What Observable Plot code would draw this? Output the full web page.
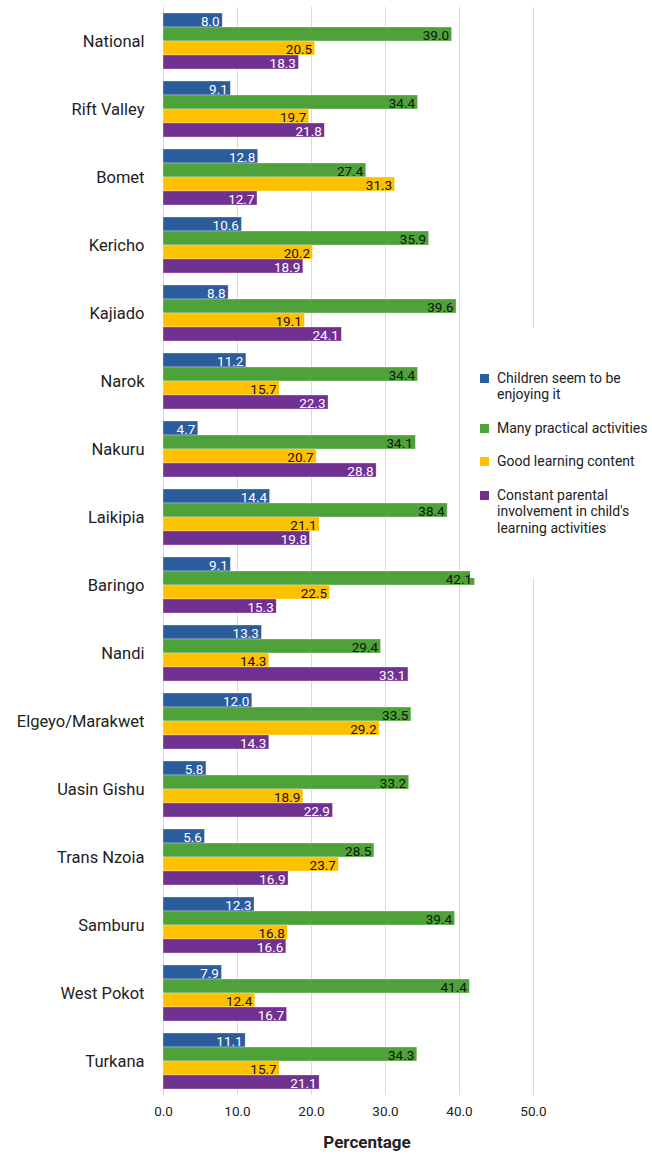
<!DOCTYPE html>
<html>
<head>
<meta charset="utf-8">
<script src="https://cdn.jsdelivr.net/npm/d3@7"></script>
<script src="https://cdn.jsdelivr.net/npm/@observablehq/plot@0.6"></script>
<style>
  html, body { margin: 0; padding: 0; background: #fff; }
  #wrap { position: relative; width: 652px; height: 1157px; font-family: Roboto, "Noto Sans", sans-serif; color: #222; }
  #wrap svg { position: absolute; left: 0; top: 0; background: transparent !important; }
  #legend { position: absolute; left: 470px; top: 328px; width: 182px; height: 250px; background: #fff;
            display: flex; flex-direction: column; justify-content: center; gap: 17px; font-size: 14px; line-height: 16.5px; }
  .item { display: flex; align-items: flex-start; padding-left: 10px; }
  .sw { width: 9px; height: 9px; margin-top: 4px; margin-right: 8px; flex: none; }
  #xlabel { position: absolute; left: 163px; width: 408px; top: 1132px; text-align: center; font-weight: bold; font-size: 17px; }
</style>
</head>
<body>
<div id="wrap"></div>
<script>
const regions = ["National","Rift Valley","Bomet","Kericho","Kajiado","Narok","Nakuru","Laikipia","Baringo","Nandi","Elgeyo/Marakwet","Uasin Gishu","Trans Nzoia","Samburu","West Pokot","Turkana"];
const series = ["Children seem to be enjoying it","Many practical activities","Good learning content","Constant parental involvement in child's learning activities"];
const enjoying  = [8.0, 9.1, 12.8, 10.6, 8.8, 11.2, 4.7, 14.4, 9.1, 13.3, 12.0, 5.8, 5.6, 12.3, 7.9, 11.1];
const practical = [39.0, 34.4, 27.4, 35.9, 39.6, 34.4, 34.1, 38.4, 42.1, 29.4, 33.5, 33.2, 28.5, 39.4, 41.4, 34.3];
const content   = [20.5, 19.7, 31.3, 20.2, 19.1, 15.7, 20.7, 21.1, 22.5, 14.3, 29.2, 18.9, 23.7, 16.8, 12.4, 15.7];
const parental  = [18.3, 21.8, 12.7, 18.9, 24.1, 22.3, 28.8, 19.8, 15.3, 33.1, 14.3, 22.9, 16.9, 16.6, 16.7, 21.1];
const xTicks = [0, 10, 20, 30, 40, 50];

const colors = ["#2b5c9c", "#4fa23a", "#ffc000", "#713190"];
const whiteText = new Set([series[0], series[3]]);
const values = [enjoying, practical, content, parental];
const rows = regions.flatMap((r, i) => series.map((s, j) => ({region: r, series: s, value: values[j][i]})));

const W = 652, H = 1125, ML = 163, MR = 119, MT = 7, MB = 30;
const fyOpts = {paddingInner: 0.15, paddingOuter: 0.075};

const bg = Plot.plot({
  width: W, height: H, marginLeft: ML, marginRight: MR, marginTop: MT, marginBottom: MB,
  style: {fontSize: "13.5px", fontFamily: "Roboto, 'Noto Sans', sans-serif", color: "#222"},
  x: {domain: [0, 50], ticks: xTicks, tickFormat: d => d.toFixed(1), tickSize: 0, tickPadding: 11, label: null},
  y: {domain: regions, axis: null, ...fyOpts},
  marks: [
    Plot.ruleX(xTicks, {stroke: "#d9d9d9", strokeWidth: 1}),
    Plot.text(regions, {y: d => d, frameAnchor: "left", textAnchor: "end", dx: -19, fontSize: 16.5, fill: "#222"})
  ]
});

const fg = Plot.plot({
  width: W, height: H, marginLeft: ML, marginRight: MR, marginTop: MT, marginBottom: MB,
  style: {fontSize: "13px", fontFamily: "Roboto, 'Noto Sans', sans-serif", background: "transparent"},
  x: {domain: [0, 50], axis: null},
  y: {domain: series, axis: null, padding: 0.03},
  fy: {domain: regions, axis: null, label: null, ...fyOpts},
  color: {domain: series, range: colors},
  facet: {data: rows, y: "region"},
  marks: [
    Plot.barX(rows, {x: "value", y: "series", fill: "series", stroke: "#ffffff", strokeOpacity: 0.5, strokeWidth: 0.6}),
    Plot.text(rows, {filter: d => whiteText.has(d.series), x: "value", y: "series", text: d => d.value.toFixed(1), textAnchor: "end", dx: -3, dy: 1, fill: "#ffffff", fontSize: 13.5}),
    Plot.text(rows, {filter: d => !whiteText.has(d.series), x: "value", y: "series", text: d => d.value.toFixed(1), textAnchor: "end", dx: -3, dy: 1, fill: "#111111", fontSize: 13.5})
  ]
});

const wrap = document.getElementById("wrap");
wrap.appendChild(bg);
wrap.appendChild(fg);

const legend = document.createElement("div");
legend.id = "legend";
series.forEach((s, j) => {
  const item = document.createElement("div");
  item.className = "item";
  const sw = document.createElement("span");
  sw.className = "sw";
  sw.style.background = colors[j];
  const t = document.createElement("span");
  t.textContent = s;
  item.appendChild(sw); item.appendChild(t);
  legend.appendChild(item);
});
wrap.appendChild(legend);

const xl = document.createElement("div");
xl.id = "xlabel";
xl.textContent = "Percentage";
wrap.appendChild(xl);
</script>
</body>
</html>
